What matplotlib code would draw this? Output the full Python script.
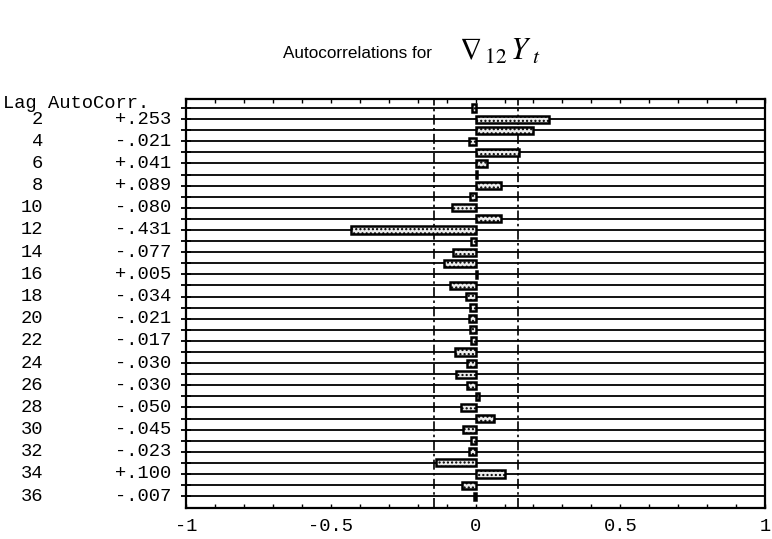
"""Autocorrelation bar chart for the seasonally differenced series."""

import matplotlib
matplotlib.use("Agg")
import matplotlib.pyplot as plt
import matplotlib.transforms as mtransforms

# lag 1..36 (even lags from the printed column)
lags = list(range(1, 37))
acf = [-0.012, 0.253, 0.200, -0.021, 0.150, 0.041, 0.005, 0.089, -0.018,
       -0.080, 0.088, -0.431, -0.015, -0.077, -0.108, 0.005, -0.087, -0.034,
       -0.020, -0.021, -0.020, -0.017, -0.072, -0.030, -0.066, -0.030, 0.012,
       -0.050, 0.062, -0.045, -0.015, -0.023, -0.137, 0.100, -0.048, -0.007]
conf_limit = 0.145
xticks = [-1, -0.5, 0, 0.5, 1]
xtick_labels = ["-1", "-0.5", "0", "0.5", "1"]

mono = "Liberation Mono"
fs = 13.5

plt.rcParams["hatch.color"] = "#a0a0a0"


def fmt(v):
    s = f"{abs(v):.3f}"[1:]
    return ("+" if v >= 0 else "-") + s


fig = plt.figure(figsize=(7.72, 5.39), dpi=100)
ax = fig.add_axes([0.241, 0.0575, 0.750, 0.7588])

# horizontal rules across the panel, one per lag
for k in lags:
    ax.axhline(k, color="black", lw=1.3, zorder=1)

ax.barh(lags, acf, height=0.64, color="#ececec", edgecolor="black",
        linewidth=1.8, hatch="....", zorder=3)

for x in (-conf_limit, conf_limit):
    ax.axvline(x, color="black", lw=1.2, ls=(0, (6, 2, 1.5, 2)), zorder=2)

ax.set_xlim(-1, 1)
ax.set_ylim(37.07, 0.19)
ax.set_xticks(xticks)
ax.set_xticklabels(xtick_labels, family=mono, fontsize=fs)
ax.set_xticks([i / 10 for i in range(-10, 11)], minor=True)
ax.tick_params(axis="x", which="both", direction="in", top=True,
               length=3, width=1, pad=7)
ax.set_yticks(lags)
ax.set_yticklabels([])
ax.tick_params(axis="y", which="major", direction="inout", length=7, width=1.3)
for sp in ax.spines.values():
    sp.set_linewidth(1.6)

# typewriter lag / value column on the left
trans = mtransforms.blended_transform_factory(fig.transFigure, ax.transData)
ax.text(0.004, 0.55, "Lag AutoCorr.", transform=trans, family=mono,
        fontsize=fs, ha="left", va="center", clip_on=False)
for k, v in zip(lags, acf):
    if k % 2:
        continue
    ax.text(0.056, k, str(k), transform=trans, family=mono, fontsize=fs,
            ha="right", va="center", clip_on=False)
    ax.text(0.222, k, fmt(v), transform=trans, family=mono, fontsize=fs,
            ha="right", va="center", clip_on=False)

fig.text(0.367, 0.900, "Autocorrelations for", family="Liberation Sans",
         fontsize=12.3, ha="left", va="center")
fig.text(0.594, 0.905, r"$\nabla_{\,12}\,Y_{\;t}$", fontsize=22, ha="left",
         va="center", math_fontfamily="stix")

fig.savefig("out.png", dpi=100)
